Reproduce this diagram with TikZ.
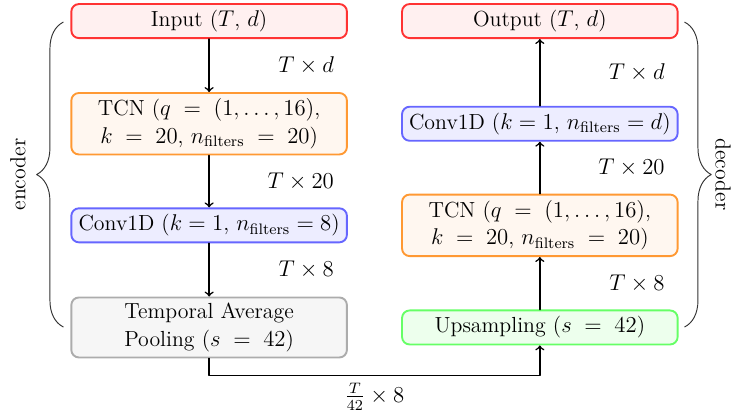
\documentclass[tikz,border=0pt]{standalone}
\usetikzlibrary{decorations.pathreplacing}
\begin{document}
\begin{tikzpicture}[font=\fontsize{11.5}{14.5}\selectfont, line join=round, line cap=round, >=to,
	box/.style={draw, line width=1pt, rounded corners=4pt, minimum width=5.1cm, minimum height=0.63cm, align=center, inner xsep=2pt, inner ysep=3pt},
	iobox/.style={box, draw=red!80, fill=red!6},
	tcnbox/.style={box, draw=orange!80, fill=orange!6},
	convbox/.style={box, draw=blue!60, fill=blue!7},
	poolbox/.style={box, draw=gray!65, fill=gray!7},
	upbox/.style={box, draw=green!60, fill=green!7},
	dim/.style={midway, anchor=east, xshift=2.44cm},
	curly/.style={decorate, decoration={brace, amplitude=14pt}, line width=0.5pt, black!80}]
	\def\xl{3.87} \def\xr{9.99} % columns
	\def\ya{-0.39} \def\yb{-2.29} \def\yc{-4.17} \def\yd{-6.06} % rows
	\useasboundingbox (0,0) rectangle (13.62,-7.66);
	% encoder
	\node[iobox] (input) at (\xl,\ya) {Input ($T$, $d$)};
	\node[tcnbox] (tcnenc) at (\xl,\yb) {TCN ($q \;=\; (1,\ldots,16)$,\\ $k \;=\; 20$, $n_{\mathrm{filters}} \;=\; 20$)};
	\node[convbox] (convenc) at (\xl,\yc) {Conv1D ($k = 1$, $n_{\mathrm{filters}} = 8$)};
	\node[poolbox] (pool) at (\xl,\yd) {Temporal Average\\ Pooling ($s \;=\; 42$)};
	% decoder
	\node[iobox] (output) at (\xr,\ya) {Output ($T$, $d$)};
	\node[convbox] (convdec) at (\xr,\yb) {Conv1D ($k = 1$, $n_{\mathrm{filters}} = d$)};
	\node[tcnbox] (tcndec) at (\xr,\yc) {TCN ($q \;=\; (1,\ldots,16)$,\\ $k \;=\; 20$, $n_{\mathrm{filters}} \;=\; 20$)};
	\node[upbox] (up) at (\xr,\yd) {Upsampling ($s \;=\; 42$)};
	\begin{scope}[thick]
	\draw[->] (input) -- (tcnenc) node[dim]{$T \times d$};
	\draw[->] (tcnenc) -- (convenc) node[dim]{$T \times 20$};
	\draw[->] (convenc) -- (pool) node[dim]{$T \times 8$};
	\draw[->] (pool.south) -- ++(0,-0.32) -| (up.south) node[pos=0.25, below]{$\frac{T}{42} \times 8$};
	\draw[->] (up) -- (tcndec) node[dim]{$T \times 8$};
	\draw[->] (tcndec) -- (convdec) node[dim]{$T \times 20$};
	\draw[->] (convdec) -- (output) node[dim]{$T \times d$};
	\end{scope}
	% braces
	\draw[curly] (1.17,-6.05) -- (1.17,-0.41);
	\node[rotate=90] (enc) at (0.33,-3.23) {encoder};
	\draw[curly] (12.67,-0.41) -- (12.67,-6.05);
	\node[rotate=-90] (dec) at (13.38,-3.23) {decoder};
\end{tikzpicture}
\end{document}
